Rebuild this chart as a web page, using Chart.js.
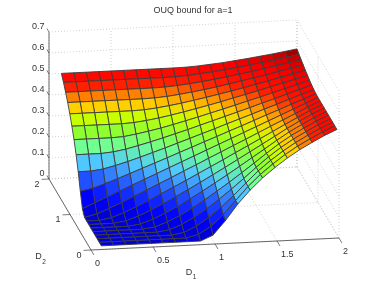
<!DOCTYPE html>
<html>
<head>
<meta charset="utf-8">
<script src="https://cdn.jsdelivr.net/npm/chart.js@4"></script>
<style>
html, body { margin: 0; padding: 0; background: #fff; }
canvas { display: block; }
</style>
</head>
<body>
<canvas id="myChart" width="374" height="281"></canvas>
<script>
var chartTitle = 'OUQ bound for a=1';
var d1Values = [0.1, 0.2, 0.3, 0.4, 0.5, 0.6, 0.7, 0.8, 0.9, 1, 1.1, 1.2, 1.3, 1.4, 1.5, 1.6, 1.7, 1.8, 1.9, 2];
var d2Values = [0.1, 0.2, 0.3, 0.4, 0.5, 0.6, 0.7, 0.8, 0.9, 1, 1.1, 1.2, 1.3, 1.4, 1.5, 1.6, 1.7, 1.8, 1.9, 2];
var d1Ticks = [0, 0.5, 1, 1.5, 2];
var d2Ticks = [0, 1, 2];
var zTicks = [0, 0.1, 0.2, 0.3, 0.4, 0.5, 0.6, 0.7];

// one row per D2 value, one column per D1 value
var zRows = [
  [0, 0, 0, 0, 0, 0, 0, 0, 0, .025, .091, .167, .231, .286, .333, .375, .412, .444, .474, .5],
  [0, 0, 0, 0, 0, 0, 0, 0, .014, .05, .102, .167, .231, .286, .333, .375, .412, .444, .474, .5],
  [0, 0, 0, 0, 0, 0, 0, .01, .037, .075, .121, .174, .231, .286, .333, .375, .412, .444, .474, .5],
  [0, 0, 0, 0, 0, 0, .009, .031, .063, .1, .142, .188, .236, .286, .333, .375, .412, .444, .474, .5],
  [0, 0, 0, 0, 0, .008, .029, .056, .089, .125, .164, .204, .246, .289, .333, .375, .412, .444, .474, .5],
  [0, 0, 0, 0, .008, .028, .054, .083, .116, .15, .186, .222, .26, .298, .336, .375, .412, .444, .474, .5],
  [0, 0, 0, .009, .029, .054, .082, .112, .143, .175, .208, .241, .275, .309, .343, .377, .412, .444, .474, .5],
  [0, 0, .01, .031, .056, .083, .112, .141, .17, .2, .23, .26, .291, .321, .352, .383, .414, .444, .474, .5],
  [0, .014, .037, .063, .089, .116, .143, .17, .198, .225, .253, .28, .308, .335, .363, .391, .418, .446, .474, .5],
  [.025, .05, .075, .1, .125, .15, .175, .2, .225, .25, .275, .3, .325, .35, .375, .4, .425, .45, .475, .5],
  [.091, .102, .121, .142, .164, .186, .208, .23, .253, .275, .298, .32, .343, .365, .388, .411, .433, .456, .478, .501],
  [.167, .167, .174, .188, .204, .222, .241, .26, .28, .3, .32, .34, .361, .381, .401, .422, .442, .463, .484, .504],
  [.231, .231, .231, .236, .246, .26, .275, .291, .308, .325, .343, .361, .379, .397, .415, .434, .452, .471, .49, .509],
  [.286, .286, .286, .286, .289, .298, .309, .321, .335, .35, .365, .381, .397, .413, .43, .446, .463, .48, .497, .514],
  [.333, .333, .333, .333, .333, .336, .343, .352, .363, .375, .388, .401, .415, .43, .444, .459, .475, .49, .505, .521],
  [.375, .375, .375, .375, .375, .375, .377, .383, .391, .4, .411, .422, .434, .446, .459, .473, .486, .5, .514, .528],
  [.412, .412, .412, .412, .412, .412, .412, .414, .418, .425, .433, .442, .452, .463, .475, .486, .498, .511, .523, .536],
  [.444, .444, .444, .444, .444, .444, .444, .444, .446, .45, .456, .463, .471, .48, .49, .5, .511, .522, .533, .544],
  [.474, .474, .474, .474, .474, .474, .474, .474, .474, .475, .478, .484, .49, .497, .505, .514, .523, .533, .543, .553],
  [.5, .5, .5, .5, .5, .5, .5, .5, .5, .5, .501, .504, .509, .514, .521, .528, .536, .544, .553, .5625]
];

// colormap as seen in the picture: [z, r, g, b]
var colorStops = [
  [0, 0, 0, 216],
  [.025, 0, 0, 255],
  [.091, 32, 80, 255],
  [.167, 80, 200, 255],
  [.231, 112, 255, 144],
  [.286, 144, 255, 48],
  [.333, 200, 255, 0],
  [.375, 255, 208, 0],
  [.412, 255, 128, 0],
  [.444, 255, 32, 0],
  [.474, 255, 8, 0],
  [.5, 248, 0, 0],
  [.52, 224, 0, 0],
  [.533, 200, 0, 0],
  [.543, 164, 0, 0]
];

// orthographic view of the box, in view units
function project(d1, d2, z) {
  return { x: 124 * d1 - 21 * d2, y: 6 * d1 + 35.5 * d2 + 210 * z };
}

function cellColor(z) {
  var k = 0;
  while (k < colorStops.length - 2 && z > colorStops[k + 1][0]) k++;
  var a = colorStops[k];
  var b = colorStops[k + 1];
  var t = Math.max(0, Math.min(1, (z - a[0]) / (b[0] - a[0])));
  return 'rgb(' + Math.round(a[1] + (b[1] - a[1]) * t) + ',' +
    Math.round(a[2] + (b[2] - a[2]) * t) + ',' +
    Math.round(a[3] + (b[3] - a[3]) * t) + ')';
}

function lineSet(from, to, color, width, dash) {
  return {
    data: [project(from[0], from[1], from[2]), project(to[0], to[1], to[2])],
    showLine: true,
    borderColor: color,
    borderWidth: width,
    borderDash: dash || [],
    pointRadius: 0,
    fill: false,
    clip: false
  };
}

var datasets = [];
var axisColor = '#444';

// axes and tick marks
datasets.push(lineSet([0, 2, 0], [0, 2, 0.7], axisColor, 0.8));
datasets.push(lineSet([0, 0, 0], [0, 2, 0], axisColor, 0.8));
datasets.push(lineSet([0, 0, 0], [2, 0, 0], axisColor, 0.8));
zTicks.forEach(function (z) {
  datasets.push(lineSet([0, 2, z], [0, 2.1, z], axisColor, 0.7));
});
d1Ticks.forEach(function (d) {
  datasets.push(lineSet([d, 0, 0], [d, -0.14, 0], axisColor, 0.7));
});
d2Ticks.forEach(function (d) {
  datasets.push(lineSet([0, d, 0], [-0.06, d, 0], axisColor, 0.7));
});

// surface cells, front ones first because chart.js paints the list backwards
for (var j = 0; j < d2Values.length - 1; j++) {
  for (var i = 0; i < d1Values.length - 1; i++) {
    datasets.push({
      data: [
        project(d1Values[i], d2Values[j], zRows[j][i]),
        project(d1Values[i + 1], d2Values[j], zRows[j][i + 1]),
        project(d1Values[i + 1], d2Values[j + 1], zRows[j + 1][i + 1]),
        project(d1Values[i], d2Values[j + 1], zRows[j + 1][i]),
        project(d1Values[i], d2Values[j], zRows[j][i])
      ],
      showLine: true,
      fill: 'shape',
      backgroundColor: cellColor(zRows[j][i]),
      borderColor: '#3c3c3c',
      borderWidth: 0.9,
      pointRadius: 0,
      clip: false
    });
  }
}

// dotted grid on the floor and the two back walls
var gridColor = '#b4b4b4';
var dots = [1, 2];
zTicks.forEach(function (z) {
  datasets.push(lineSet([0, 2, z], [2, 2, z], gridColor, 0.6, dots));
  datasets.push(lineSet([2, 2, z], [2, 0, z], gridColor, 0.6, dots));
});
d1Ticks.forEach(function (d) {
  datasets.push(lineSet([d, 2, 0], [d, 2, 0.7], gridColor, 0.6, dots));
  datasets.push(lineSet([d, 0, 0], [d, 2, 0], gridColor, 0.6, dots));
});
d2Ticks.forEach(function (d) {
  datasets.push(lineSet([2, d, 0], [2, d, 0.7], gridColor, 0.6, dots));
  datasets.push(lineSet([0, d, 0], [2, d, 0], gridColor, 0.6, dots));
});

var axisText = {
  id: 'axisText',
  afterDraw: function (chart) {
    var c = chart.ctx;
    var sx = chart.scales.x;
    var sy = chart.scales.y;
    function put(text, p, dx, dy, align, size) {
      c.textAlign = align;
      c.font = size + 'px "Liberation Sans"';
      c.fillText(text, sx.getPixelForValue(p.x) + dx, sy.getPixelForValue(p.y) + dy);
    }
    c.save();
    c.fillStyle = '#333';
    c.textBaseline = 'middle';
    zTicks.forEach(function (z) {
      put(String(z), project(0, 2, z), -4.5, -5.5, 'right', 9);
    });
    d1Ticks.forEach(function (d) {
      put(String(d), project(d, 0, 0), 4, 13.5, 'left', 9);
    });
    d2Ticks.forEach(function (d) {
      put(String(d), project(0, d, 0), -9.5, 5.5, 'right', 9);
    });
    put('D', project(1, 0, 0), -26, 28.5, 'center', 9);
    put('1', project(1, 0, 0), -20.5, 33.5, 'center', 6.5);
    put('D', project(0, 1, 0), -31.5, 42.5, 'center', 9);
    put('2', project(0, 1, 0), -26, 48, 'center', 6.5);
    c.restore();
  }
};

var ctx = document.getElementById('myChart');

var myChart = new Chart(ctx, {
  type: 'scatter',
  data: { datasets: datasets },
  plugins: [axisText],
  options: {
    responsive: false,
    animation: false,
    events: [],
    layout: { padding: { left: 12 } },
    plugins: {
      legend: { display: false },
      tooltip: { enabled: false },
      title: {
        display: true,
        text: chartTitle,
        color: '#333',
        font: { family: '"Liberation Sans"', size: 9, weight: 'normal', lineHeight: 1.2 },
        padding: { top: 5.6, bottom: 3.6 }
      }
    },
    scales: {
      x: { display: false, min: -79, max: 283 },
      y: { display: false, min: -31, max: 230 }
    }
  }
});
</script>
</body>
</html>
